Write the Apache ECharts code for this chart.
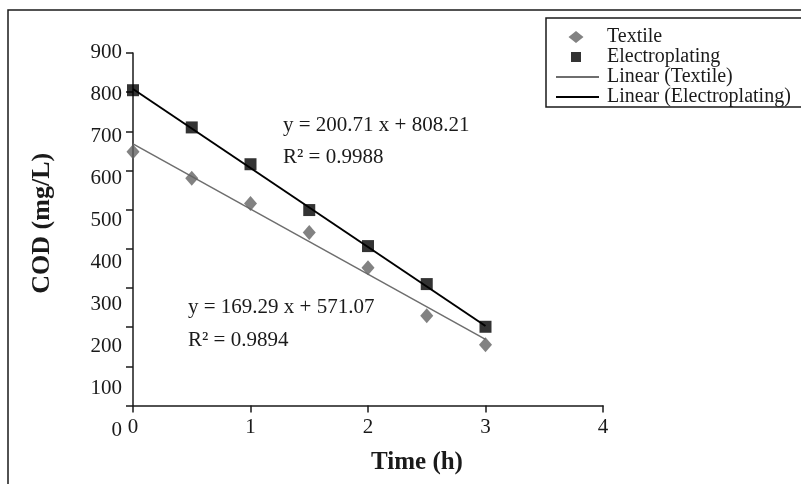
<!DOCTYPE html>
<html>
<head>
<meta charset="utf-8">
<script src="https://cdn.jsdelivr.net/npm/echarts@6/dist/echarts.min.js"></script>
<style>html,body{margin:0;padding:0;background:#fff}#c{width:801px;height:484px}</style>
</head>
<body>
<div id="c"></div>
<script>
// ---- data ----
const timeValues = [0, 0.5, 1, 1.5, 2, 2.5, 3];
const textileCOD = [648, 580, 516, 442, 352, 229, 155];
const electroplatingCOD = [805, 710, 616, 499, 407, 310, 201];
const trendX = [0, 3];
const textileTrend = [668, 169];
const electroplatingTrend = [808, 203];
const seriesNames = ['Textile', 'Electroplating', 'Linear (Textile)', 'Linear (Electroplating)'];
const eqElectro = ['y = 200.71 x + 808.21', 'R\u00B2 = 0.9988'];
const eqTextile = ['y = 169.29 x + 571.07', 'R\u00B2 = 0.9894'];
const xTitle = 'Time (h)';
const yTitle = 'COD (mg/L)';

const FONT = '"Liberation Serif", "Times New Roman", serif';
const INK = '#1a1a1a';
const GREY_MARK = '#636363';
const GREY_LINE = '#6e6e6e';
const pair = (xs, ys) => xs.map((x, i) => [x, ys[i]]);

// legend icon shapes (with invisible corner anchors so they are not stretched)
const ANCHORS = 'M0,0L0.01,0ZM43,12L42.99,12Z';
const ICON_DIAMOND = 'path://' + ANCHORS + 'M20,0L27.5,6L20,12L12.5,6Z';
const ICON_SQUARE = 'path://' + ANCHORS + 'M15,1L25,1L25,11L15,11Z';

const chart = echarts.init(document.getElementById('c'), null, {renderer: 'canvas'});
const option = {
  animation: false,
  backgroundColor: '#fff',
  textStyle: {fontFamily: FONT, color: INK},
  grid: [
    {left: 133, top: 53, width: 470, height: 352.5},
    {left: 133, top: 52, width: 470, height: 378}
  ],
  xAxis: [
    {
      type: 'value', gridIndex: 0, min: 0, max: 4, interval: 1,
      axisLine: {lineStyle: {color: INK, width: 1.5}},
      axisTick: {length: 7, lineStyle: {color: INK, width: 1.5}},
      splitLine: {show: false},
      axisLabel: {fontSize: 21, color: INK, margin: 11, fontFamily: FONT},
      name: xTitle, nameLocation: 'middle', nameGap: 45,
      nameTextStyle: {fontSize: 25, fontWeight: 'bold', color: INK, fontFamily: FONT, padding: [0, 0, 0, 98]}
    },
    {type: 'value', gridIndex: 1, min: 0, max: 4, show: false}
  ],
  yAxis: [
    {
      type: 'value', gridIndex: 0, min: 0, max: 900, interval: 100,
      axisLine: {show: true, lineStyle: {color: INK, width: 1.5}},
      axisTick: {show: true, length: 7, lineStyle: {color: INK, width: 1.5}},
      splitLine: {show: false},
      axisLabel: {show: false},
      name: yTitle, nameLocation: 'middle', nameRotate: 90, nameGap: 78,
      nameTextStyle: {fontSize: 26, fontWeight: 'bold', color: INK, fontFamily: FONT, padding: [0, 0, 0, 12]}
    },
    {
      type: 'value', gridIndex: 1, min: 0, max: 900, interval: 100,
      axisLine: {show: false}, axisTick: {show: false}, splitLine: {show: false},
      axisLabel: {fontSize: 21, color: INK, margin: 11, fontFamily: FONT}
    }
  ],
  legend: {
    orient: 'vertical', left: 546, top: 18,
    padding: [9, 40, 0, 9],
    itemWidth: 43, itemHeight: 12, itemGap: 0,
    borderColor: INK, borderWidth: 1.5,
    textStyle: {fontSize: 20, color: INK, lineHeight: 19.5, fontFamily: FONT, padding: [0, 0, 0, 3]},
    data: [
      {name: seriesNames[0], icon: ICON_DIAMOND, itemStyle: {color: GREY_MARK}},
      {name: seriesNames[1], icon: ICON_SQUARE, itemStyle: {color: '#000'}},
      {name: seriesNames[2], itemStyle: {opacity: 0}},
      {name: seriesNames[3], itemStyle: {opacity: 0}}
    ]
  },
  series: [
    {
      name: seriesNames[0], type: 'scatter', xAxisIndex: 0, yAxisIndex: 0, z: 4,
      symbol: 'diamond', symbolSize: [13, 15],
      itemStyle: {color: GREY_MARK},
      data: pair(timeValues, textileCOD)
    },
    {
      name: seriesNames[1], type: 'scatter', xAxisIndex: 0, yAxisIndex: 0, z: 4,
      symbol: 'rect', symbolSize: 12,
      itemStyle: {color: '#000'},
      data: pair(timeValues, electroplatingCOD)
    },
    {
      name: seriesNames[2], type: 'line', xAxisIndex: 0, yAxisIndex: 0, z: 2,
      symbol: 'none', showSymbol: false,
      lineStyle: {color: GREY_LINE, width: 1.5}, itemStyle: {color: GREY_LINE},
      data: pair(trendX, textileTrend)
    },
    {
      name: seriesNames[3], type: 'line', xAxisIndex: 0, yAxisIndex: 0, z: 2,
      symbol: 'none', showSymbol: false,
      lineStyle: {color: '#000', width: 2}, itemStyle: {color: '#000'},
      data: pair(trendX, electroplatingTrend)
    }
  ],
  graphic: [
    {type: 'rect', silent: true, z: -10, shape: {x: 8, y: 10, width: 900, height: 600},
      style: {fill: null, stroke: INK, lineWidth: 1.5}},
    {type: 'text', x: 283, y: 125, style: {text: eqElectro[0], fontSize: 21, fontFamily: FONT, fill: INK, verticalAlign: 'middle'}},
    {type: 'text', x: 283, y: 157, style: {text: eqElectro[1], fontSize: 21, fontFamily: FONT, fill: INK, verticalAlign: 'middle'}},
    {type: 'text', x: 188, y: 307, style: {text: eqTextile[0], fontSize: 21, fontFamily: FONT, fill: INK, verticalAlign: 'middle'}},
    {type: 'text', x: 188, y: 340, style: {text: eqTextile[1], fontSize: 21, fontFamily: FONT, fill: INK, verticalAlign: 'middle'}}
  ]
};
chart.setOption(option);
</script>
</body>
</html>
